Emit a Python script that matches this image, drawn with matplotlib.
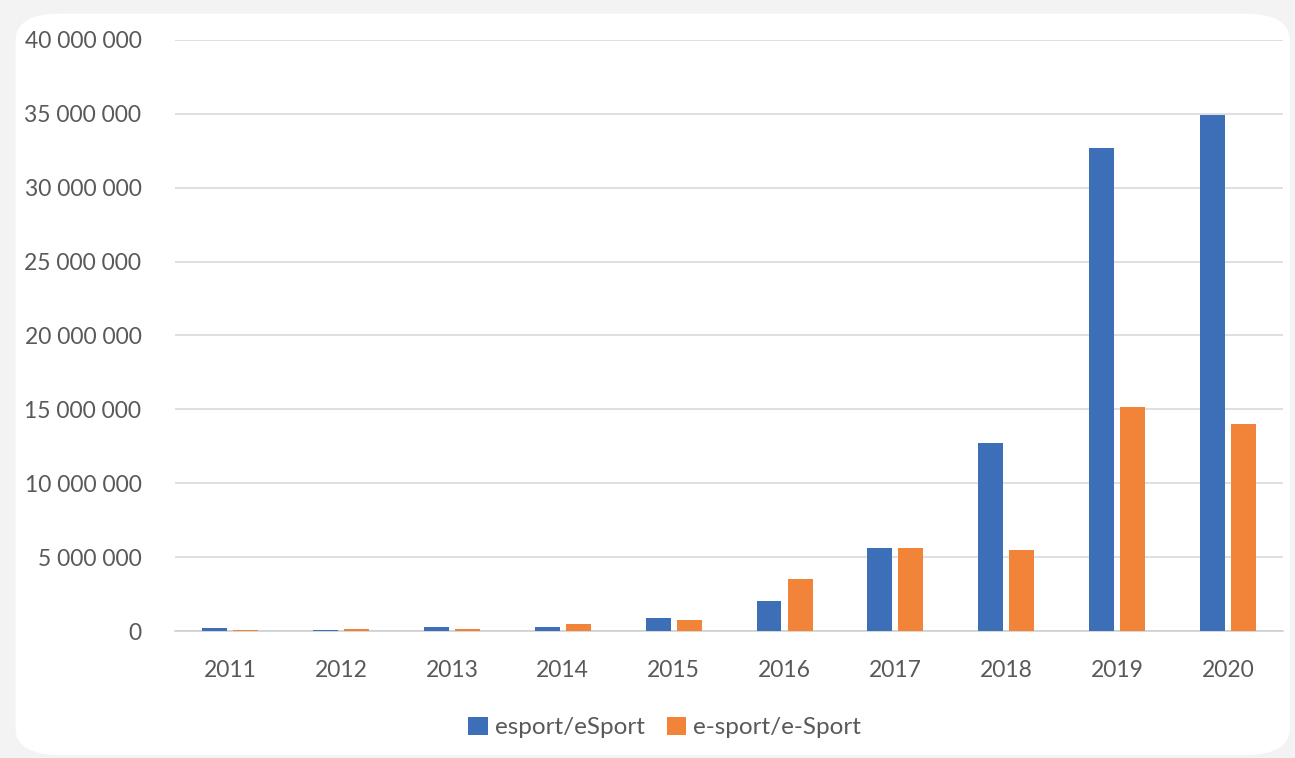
import matplotlib
import matplotlib.pyplot as plt
import numpy as np
from matplotlib.patches import FancyBboxPatch
from matplotlib.ticker import FuncFormatter

matplotlib.rcParams.update({'font.family': ['Lato', 'DejaVu Sans'], 'font.size': 16})

years = ['2011', '2012', '2013', '2014', '2015', '2016', '2017', '2018', '2019', '2020']
esport = [200000, 100000, 300000, 300000, 900000, 2030000, 5600000, 12750000, 32650000, 34900000]
e_sport = [100000, 150000, 150000, 450000, 750000, 3500000, 5600000, 5500000, 15150000, 14000000]

blue = '#3c6fb8'
orange = '#f2843a'
text_col = '#595959'

f = plt.figure(figsize=(12.95, 7.58), dpi=100)
f.patch.set_facecolor('#f3f3f3')
card = FancyBboxPatch((0.012, 0.004), 0.984, 0.978, boxstyle='round,pad=0,rounding_size=0.035',
                      transform=f.transFigure, facecolor='white', edgecolor='none', zorder=-10)
f.patches.append(card)

ax = f.add_axes([0.135, 0.1675, 0.856, 0.78])
ax.set_facecolor('none')
ax.set_zorder(5)

x = np.arange(len(years))
w = 0.225
gap = 0.055
ax.bar(x - (w + gap) / 2, esport, w, color=blue, label='esport/eSport', zorder=3)
ax.bar(x + (w + gap) / 2, e_sport, w, color=orange, label='e-sport/e-Sport', zorder=3)

ax.set_xlim(-0.5, len(years) - 0.5)
ax.set_ylim(0, 40000000)
ax.set_yticks(np.arange(0, 40000001, 5000000))
ax.yaxis.set_major_formatter(FuncFormatter(lambda v, p: '{:,.0f}'.format(v).replace(',', ' ')))
ax.set_xticks(x)
ax.set_xticklabels(years)
ax.grid(axis='y', color='#d9d9d9', linewidth=1.2, zorder=0)
for s in ['top', 'right', 'left']:
    ax.spines[s].set_visible(False)
ax.spines['bottom'].set_color('#d0d0d0')
ax.spines['bottom'].set_linewidth(1.2)
ax.tick_params(length=0, colors=text_col, labelsize=16.5)
ax.tick_params(axis='y', pad=24)
ax.tick_params(axis='x', pad=21)

ax.legend(loc='center', bbox_to_anchor=(0.442, -0.163), ncol=2, frameon=False,
          handlelength=0.8, handleheight=0.8, handletextpad=0.3, columnspacing=0.9,
          labelcolor=text_col, fontsize=17.5)

f.savefig('out.png', dpi=100)
